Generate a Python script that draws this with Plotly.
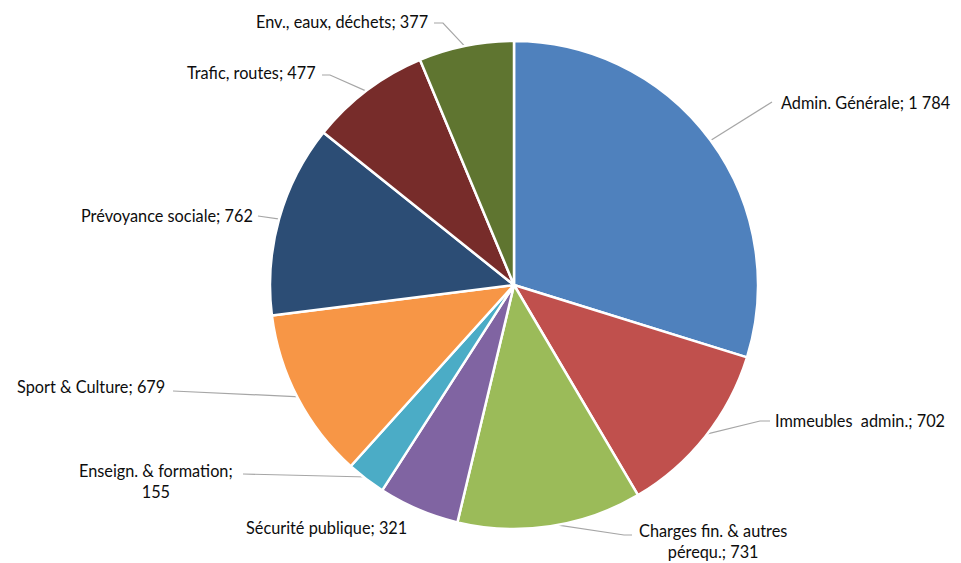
import math
import plotly.graph_objects as go

# ---- data ----
categories = ["Admin. Générale", "Immeubles  admin.", "Charges fin. & autres<br>pérequ.",
              "Sécurité publique", "Enseign. & formation;<br>155", "Sport & Culture",
              "Prévoyance sociale", "Trafic, routes", "Env., eaux, déchets"]
value_labels = ["1 784", "702", "731", "321", "", "679", "762", "477", "377"]
values = [1784, 702, 731, 321, 155, 679, 762, 477, 377]

# ---- style ----
colors = ["#4F81BD", "#C0504D", "#9BBB59", "#8064A2", "#4BACC6",
          "#F79646", "#2C4D75", "#772C2A", "#5F7530"]
W, H = 961, 563
CX, CY, R = 514, 285, 244
# label anchor (x, y), xanchor, elbow point, tail point (None -> no leader line)
label_pos = [
    (779, 102, "left", (772, 102), (772, 102)),
    (773, 420, "left", (760, 421), (770, 421)),
    (713, 541, "center", (624, 535), (632, 535)),
    (326, 527, "center", None, None),
    (156, 481, "center", (243, 474), (243, 474)),
    (167, 386, "right", (173, 391), (173, 391)),
    (255, 215, "right", (258, 216), (258, 216)),
    (318, 72, "right", (330, 75), (322, 75)),
    (430, 21, "right", (443, 23), (434, 23)),
]
FONT = "Lato"

fig = go.Figure()
fig.add_trace(go.Pie(
    values=values, labels=categories, sort=False, direction="clockwise", rotation=0,
    marker=dict(colors=colors, line=dict(color="white", width=2.5)),
    textinfo="none", hoverinfo="skip", showlegend=False,
    domain=dict(x=[(CX - R) / W, (CX + R) / W], y=[(H - CY - R) / H, (H - CY + R) / H]),
))

total = sum(values)
cum = 0
for i, v in enumerate(values):
    mid = (cum + v / 2) / total * 2 * math.pi
    cum += v
    sx = CX + R * 0.99 * math.sin(mid)
    sy = CY - R * 0.99 * math.cos(mid)
    lx, ly, anchor, elbow, tail = label_pos[i]
    if elbow is not None:
        fig.add_trace(go.Scatter(
            x=[sx, elbow[0], tail[0]], y=[sy, elbow[1], tail[1]], mode="lines",
            line=dict(color="#A6A6A6", width=1.2), hoverinfo="skip", showlegend=False))
    txt = categories[i] + ("; " + value_labels[i] if value_labels[i] else "")
    fig.add_annotation(x=lx, y=ly, xref="x", yref="y", text=txt, showarrow=False,
                       xanchor=anchor, yanchor="middle", align="center",
                       font=dict(family=FONT, size=16.3, color="#0d0d0d"))

fig.update_layout(
    width=W, height=H, margin=dict(l=0, r=0, t=0, b=0),
    paper_bgcolor="white", plot_bgcolor="rgba(0,0,0,0)",
    xaxis=dict(range=[0, W], visible=False, fixedrange=True),
    yaxis=dict(range=[H, 0], visible=False, fixedrange=True),
)
fig.write_html("out.html", config={"displayModeBar": False},
               post_script="document.body.style.margin='0';document.body.style.overflow='hidden';")
